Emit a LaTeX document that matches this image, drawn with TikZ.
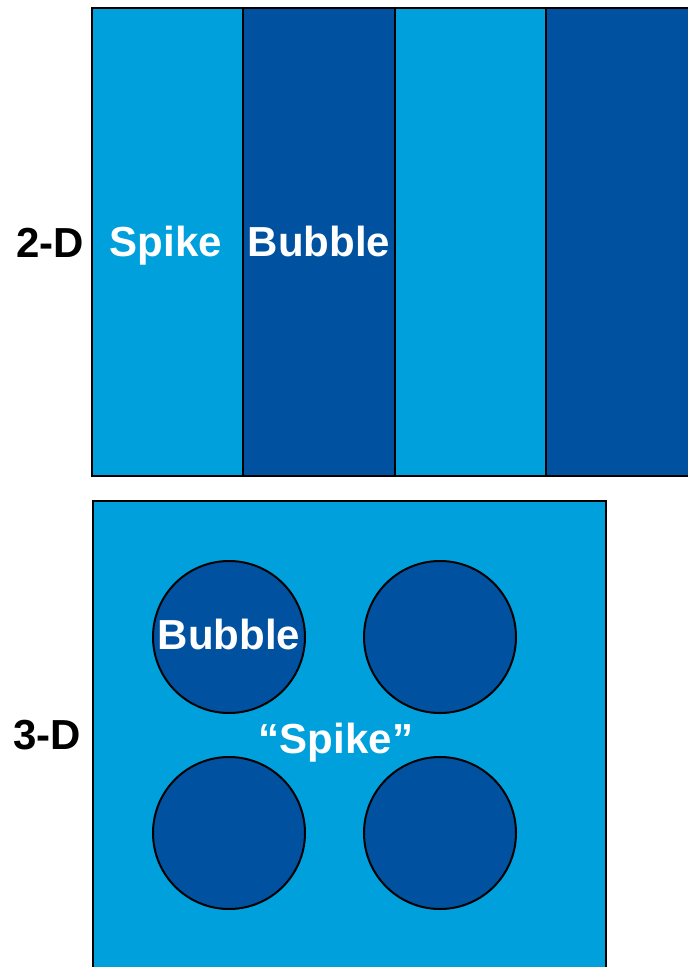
\documentclass[tikz,border=0pt]{standalone}
\usepackage{fontspec}
\setmainfont{Liberation Sans}
\usetikzlibrary{positioning}
\definecolor{spikeblue}{RGB}{0,160,220}
\definecolor{bubbleblue}{RGB}{0,82,160}

\begin{document}
\begin{tikzpicture}[x=1pt,y=-1pt,
	stripe/.style={draw, line width=2pt, minimum width=151.3pt, minimum height=468pt,
		inner sep=0pt, outer sep=0pt},
	bubble/.style={circle, draw, line width=2pt, fill=bubbleblue, minimum size=152pt,
		inner sep=0pt, outer sep=0pt},
	lbl/.style={font=\fontsize{42}{45}\selectfont\bfseries, inner sep=0pt,
		text height=30pt, text depth=0pt},
	wlbl/.style={lbl, text=white}
	]
	\useasboundingbox (0,0) rectangle (688,967);
	\clip (0,0) rectangle (688,967);
	
	% 2-D stripes
	\node[stripe, fill=spikeblue, anchor=north west] (s1) at (92,8) {};
	\node[stripe, fill=bubbleblue, right=0pt of s1] (s2) {};
	\node[stripe, fill=spikeblue, right=0pt of s2] (s3) {};
	\node[stripe, fill=bubbleblue, right=0pt of s3] (s4) {};
	
	\node[wlbl] (spike2d) at (166,241) {Spike};
	\node[wlbl] (bubble2d) at (319,241) {Bubble};
	\node[lbl, left=8pt of s1] (twod) {2-D};
	
	% 3-D box with bubbles
	\node[draw, line width=2pt, fill=spikeblue, minimum width=513pt, minimum height=480pt,
		inner sep=0pt, outer sep=0pt, anchor=north west] (box) at (93,501) {};
	
	\node[bubble] (b1) at (229,637) {};
	\node[bubble, right=59pt of b1] (b2) {};
	\node[bubble, below=44pt of b1] (b3) {};
	\node[bubble, right=59pt of b3] (b4) {};
	
	\node[wlbl] (bubble3d) at (229,634) {Bubble};
	\node[wlbl] (spike3d) at (336,738) {“Spike”};
	\node[lbl, left=12pt of {[yshift=7pt]box.west}] (threed) {3-D};
	
\end{tikzpicture}
\end{document}
